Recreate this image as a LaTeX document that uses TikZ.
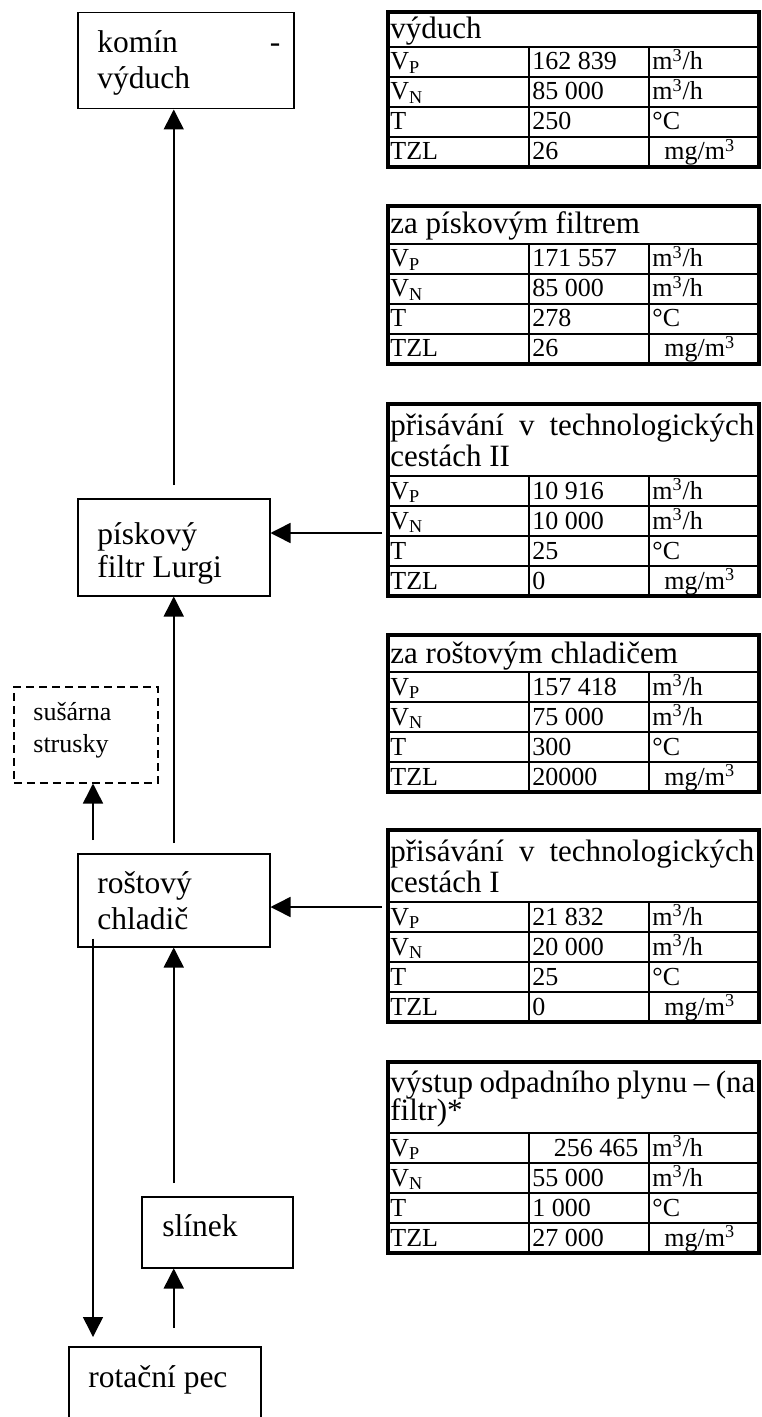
\documentclass[tikz,border=0pt]{standalone}
\usepackage{fontspec}
\setmainfont{Liberation Serif}
\usetikzlibrary{arrows.meta}

% units used in the flow tables
\newcommand{\mh}{m\textsuperscript{3}/h}
\newcommand{\mgm}{\hspace{6pt}mg/m\textsuperscript{3}}

\tikzset{
  arr/.style={line width=0.75pt, -{Triangle[length=10pt,width=10pt]}},
  box/.style={draw, line width=0.75pt, rectangle, inner sep=0pt, anchor=north west},
  dashbox/.style={box, dash pattern=on 4pt off 2.5pt},
  lbl/.style={anchor=base west, inner sep=0pt, font=\fontsize{15.75}{18}\selectfont},
  small lbl/.style={anchor=base west, inner sep=0pt, font=\fontsize{13}{15}\selectfont},
  hdr/.style={anchor=base west, inner sep=0pt, font=\fontsize{15.5}{18}\selectfont},
  cell/.style={anchor=base west, inner sep=0pt, font=\fontsize{13}{15}\selectfont},
  rule/.style={line width=0.75pt},
  frame/.style={line width=2pt},
}

% #1 name, #2 top edge, #3 header height, #4 header text,
% #5-#8 values of V_P, V_N, T and TZL
\newcommand{\gastable}[8]{%
  \begin{scope}[shift={(0,#2)}]
    #4
    \draw[rule] (388,#3) -- (759,#3);
    \draw[rule] (388,#3+30) -- (759,#3+30);
    \draw[rule] (388,#3+60) -- (759,#3+60);
    \draw[rule] (388,#3+90) -- (759,#3+90);
    \draw[rule] (529,#3) -- (529,#3+120);
    \draw[rule] (649,#3) -- (649,#3+120);
    \node[cell] (#1-a1) at (390,#3+23) {V\textsubscript{P}};
    \node[cell] (#1-a2) at (390,#3+53) {V\textsubscript{N}};
    \node[cell] (#1-a3) at (390,#3+83) {T};
    \node[cell] (#1-a4) at (390,#3+113) {TZL};
    \node[cell] (#1-b1) at (532,#3+23) {#5};
    \node[cell] (#1-b2) at (532,#3+53) {#6};
    \node[cell] (#1-b3) at (532,#3+83) {#7};
    \node[cell] (#1-b4) at (532,#3+113) {#8};
    \node[cell] (#1-c1) at (652,#3+23) {\mh};
    \node[cell] (#1-c2) at (652,#3+53) {\mh};
    \node[cell] (#1-c3) at (652,#3+83) {°C};
    \node[cell] (#1-c4) at (652,#3+113) {\mgm};
    \draw[frame] (388,0) rectangle (759,#3+120);
  \end{scope}}

\begin{document}
\begin{tikzpicture}[x=0.5pt,y=-0.5pt]
\useasboundingbox (0,0) rectangle (761,1417);

% process blocks
\node[box, minimum width=108pt, minimum height=48pt] (komin) at (77,12) {};
\node[box, minimum width=96pt, minimum height=48.5pt] (filtr) at (77,498) {};
\node[dashbox, minimum width=72pt, minimum height=48pt] (susarna) at (13,686) {};
\node[box, minimum width=96pt, minimum height=46.5pt] (rost) at (77,853) {};
\node[box, minimum width=75.5pt, minimum height=35.5pt] (slinek) at (141,1196) {};
\node[box, minimum width=96pt, minimum height=47pt] (pec) at (68,1346) {};

\node[lbl] (komin-t1) at (97,53) {\makebox[91.5pt][s]{komín -}};
\node[lbl] (komin-t2) at (97,89) {výduch};
\node[lbl] (filtr-t1) at (97,544) {pískový};
\node[lbl] (filtr-t2) at (97,577) {filtr Lurgi};
\node[small lbl] (susarna-t1) at (33,720) {sušárna};
\node[small lbl] (susarna-t2) at (33,752) {strusky};
\node[lbl] (rost-t1) at (97,893) {roštový};
\node[lbl] (rost-t2) at (97,929) {chladič};
\node[lbl] (slinek-t) at (162,1236) {slínek};
\node[lbl] (pec-t) at (88,1387) {rotační pec};

% gas and material flows
\coordinate (lane) at (93,0);
\draw[arr, shorten <=6.5pt] (filtr.north) -- (filtr.north |- komin.south);
\draw[arr, shorten <=5pt] (rost.north) -- (filtr.south);
\draw[arr, shorten <=6.5pt] (lane |- rost.north) -- (lane |- susarna.south);
\draw[arr, shorten <=-4.5pt, shorten >=4.5pt] (lane |- rost.south) -- (lane |- pec.north);
\draw[arr, shorten <=6.5pt] (rost.south |- slinek.north) -- (rost.south);
\draw[arr, shorten <=9pt] (rost.south |- pec.north) -- (rost.south |- slinek.south);
\coordinate (in3) at (382,533);
\draw[arr] (in3) -- (in3 -| filtr.east);
\coordinate (in5) at (382,907);
\draw[arr] (in5) -- (in5 -| rost.east);

% flow tables
\gastable{t1}{12}{35}{\node[hdr] (t1-h) at (390,27) {výduch};}
  {162 839}{85 000}{250}{26}
\gastable{t2}{206}{38}{\node[hdr] (t2-h) at (390,28) {za pískovým filtrem};}
  {171 557}{85 000}{278}{26}
\gastable{t3}{404}{72}{%
  \node[hdr] (t3-h1) at (390,31) {\makebox[182pt][s]{přisávání v technologických}};
  \node[hdr] (t3-h2) at (390,62) {cestách II};}
  {10 916}{10 000}{25}{0}
\gastable{t4}{635}{37}{\node[hdr] (t4-h) at (390,28) {za roštovým chladičem};}
  {157 418}{75 000}{300}{20000}
\gastable{t5}{830}{72}{%
  \node[hdr] (t5-h1) at (390,31) {\makebox[182pt][s]{přisávání v technologických}};
  \node[hdr] (t5-h2) at (390,62) {cestách I};}
  {21 832}{20 000}{25}{0}
\gastable{t6}{1062}{71}{%
  \node[hdr] (t6-h1) at (390,30) {\makebox[182.5pt][s]{výstup odpadního plynu – (na}};
  \node[hdr] (t6-h2) at (390,58) {filtr)*};}
  {\makebox[53pt][r]{256 465}}{55 000}{1 000}{27 000}
\end{tikzpicture}
\end{document}
